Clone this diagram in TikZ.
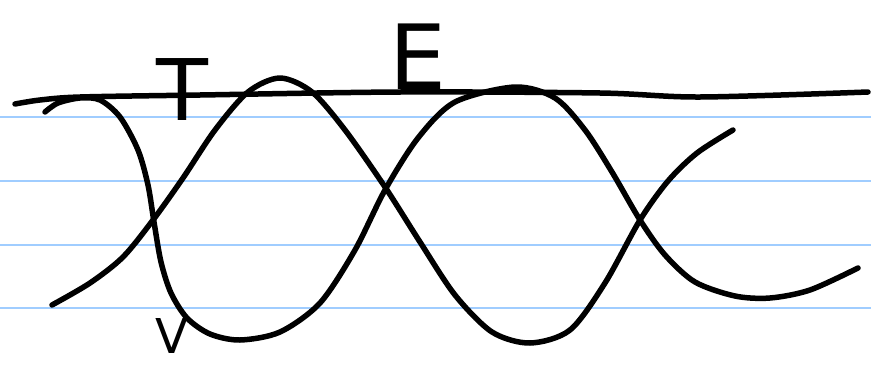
\documentclass[tikz,border=0pt]{standalone}
\usepackage{fontspec}
\setsansfont{DejaVu Sans}
\begin{document}
\begin{tikzpicture}[x=1pt,y=-1pt,
  rule/.style={draw={rgb,255:red,160;green,205;blue,255},line width=1.6pt},
  pen/.style={draw=black,line width=5.5pt,line cap=round,line join=round},
  lbl/.style={font=\sffamily,inner sep=0pt}]
\useasboundingbox (0,0) rectangle (871,370);
\fill[white] (0,0) rectangle (871,370);
% ruled lines
\foreach \yy in {117,181,245,308} \draw[rule] (0,\yy) -- (871,\yy);
% axis line
\draw[pen] plot[smooth,tension=0.5] coordinates {(15,104) (40,100) (80,97) (200,95) (400,92) (600,93) (700,97) (868,92)};
% curve V (potential)
\draw[pen] plot[smooth,tension=0.5] coordinates {(45,112) (58,103) (80,98) (100,100) (120,117) (138,150) (148,185) (154,222) (161,262) (171,293) (187,318) (210,334) (240,340) (280,332) (320,303) (355,250) (385,190) (418,138) (455,102) (515,87) (555,98) (585,130) (612,172) (640,220) (665,255) (695,282) (735,296) (770,298) (810,290) (858,268)};
% curve T (kinetic)
\draw[pen] plot[smooth,tension=0.5] coordinates {(52,305) (90,283) (123,257) (153,220) (183,178) (215,130) (248,92) (280,78) (312,92) (345,130) (385,187) (420,242) (455,295) (492,332) (530,343) (570,330) (605,283) (640,220) (668,181) (697,153) (733,130)};
% labels
\node[lbl,font=\sffamily\fontsize{85}{85}\selectfont] (tlab) at (182,90) {T};
\node[lbl,font=\sffamily\fontsize{90}{90}\selectfont] (elab) at (418,57) {E};
\node[lbl,font=\sffamily\fontsize{48}{48}\selectfont] (vlab) at (172,336) {V};
\end{tikzpicture}
\end{document}
